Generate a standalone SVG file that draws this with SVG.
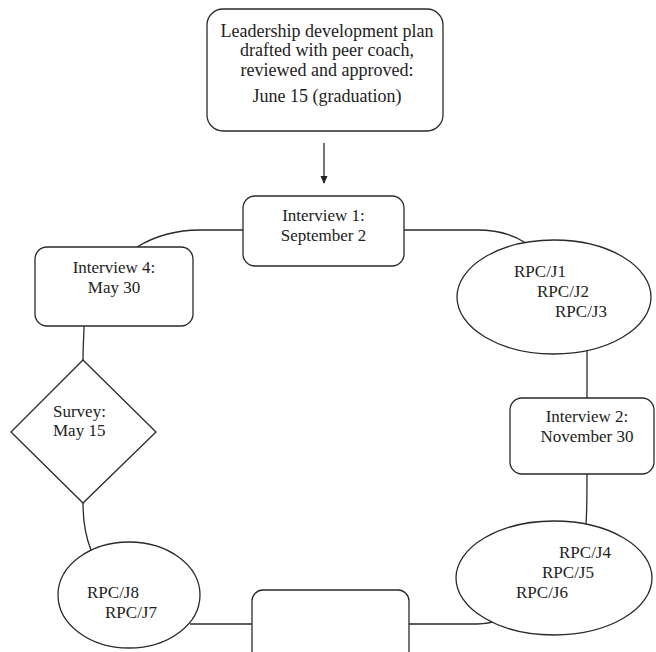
<svg xmlns="http://www.w3.org/2000/svg" width="656" height="652" viewBox="0 0 656 652">
<style>
.box{fill:#fff;stroke:#2a2a2a;stroke-width:1.3}
.conn{fill:none;stroke:#2a2a2a;stroke-width:1.3}
text{font-family:"Liberation Serif","Times New Roman",serif;font-size:17px;fill:#222}
.c{text-anchor:middle}
.big{font-size:18px}
</style>
<defs>
<marker id="ah" markerWidth="8" markerHeight="8" refX="7" refY="4" orient="auto" markerUnits="userSpaceOnUse">
<path d="M0,0.5 L8,4 L0,7.5 Z" fill="#222"/>
</marker>
</defs>
<rect width="656" height="652" fill="#fff"/>
<g id="connectors">
<line class="conn" x1="324" y1="143" x2="324" y2="183" marker-end="url(#ah)"/>
<path class="conn" d="M404,230 H477 C500,230 515,236 525,242.5"/>
<path class="conn" d="M587,351 V398"/>
<path class="conn" d="M587,474 C587,495 587,510 586,524"/>
<path class="conn" d="M492,622 C485,624 478,624 470,624 H409"/>
<path class="conn" d="M252,624 H190"/>
<path class="conn" d="M91,550 C85,535 83,520 83,503"/>
<path class="conn" d="M83,360 C83,345 84,335 84,326"/>
<path class="conn" d="M137,247 C155,236 175,230 200,230 H243"/>
</g>
<g id="plan">
<rect class="box" x="207" y="9" width="236" height="122" rx="16"/>
<text class="c big" x="327" y="37">Leadership development plan</text>
<text class="c big" x="327" y="56">drafted with peer coach,</text>
<text class="c big" x="327" y="76">reviewed and approved:</text>
<text class="c big" x="327" y="102">June 15 (graduation)</text>
</g>
<g id="interview1">
<rect class="box" x="243" y="196" width="161" height="70" rx="12"/>
<text class="c" x="323.5" y="221">Interview 1:</text>
<text class="c" x="323.5" y="241">September 2</text>
</g>
<g id="rpc-j1-j3">
<ellipse class="box" cx="554" cy="297" rx="97" ry="57"/>
<text x="514" y="277">RPC/J1</text>
<text x="537" y="297">RPC/J2</text>
<text x="555" y="317">RPC/J3</text>
</g>
<g id="interview2">
<rect class="box" x="510" y="398" width="144" height="76" rx="12"/>
<text class="c" x="587" y="422">Interview 2:</text>
<text class="c" x="587" y="442">November 30</text>
</g>
<g id="rpc-j4-j6">
<ellipse class="box" cx="554" cy="578" rx="98" ry="57"/>
<text x="559" y="558">RPC/J4</text>
<text x="542" y="578">RPC/J5</text>
<text x="516" y="598">RPC/J6</text>
</g>
<g id="blank">
<rect class="box" x="252" y="590" width="157" height="80" rx="11"/>
</g>
<g id="rpc-j7-j8">
<ellipse class="box" cx="129" cy="595" rx="71" ry="53"/>
<text x="87" y="598">RPC/J8</text>
<text x="105" y="618">RPC/J7</text>
</g>
<g id="survey">
<polygon class="box" points="83,360 156,432 83,503 11,432"/>
<text x="53" y="417">Survey:</text>
<text x="53" y="436">May 15</text>
</g>
<g id="interview4">
<rect class="box" x="35" y="247" width="158" height="79" rx="12"/>
<text class="c" x="114" y="273">Interview 4:</text>
<text class="c" x="114" y="293">May 30</text>
</g>
</svg>
